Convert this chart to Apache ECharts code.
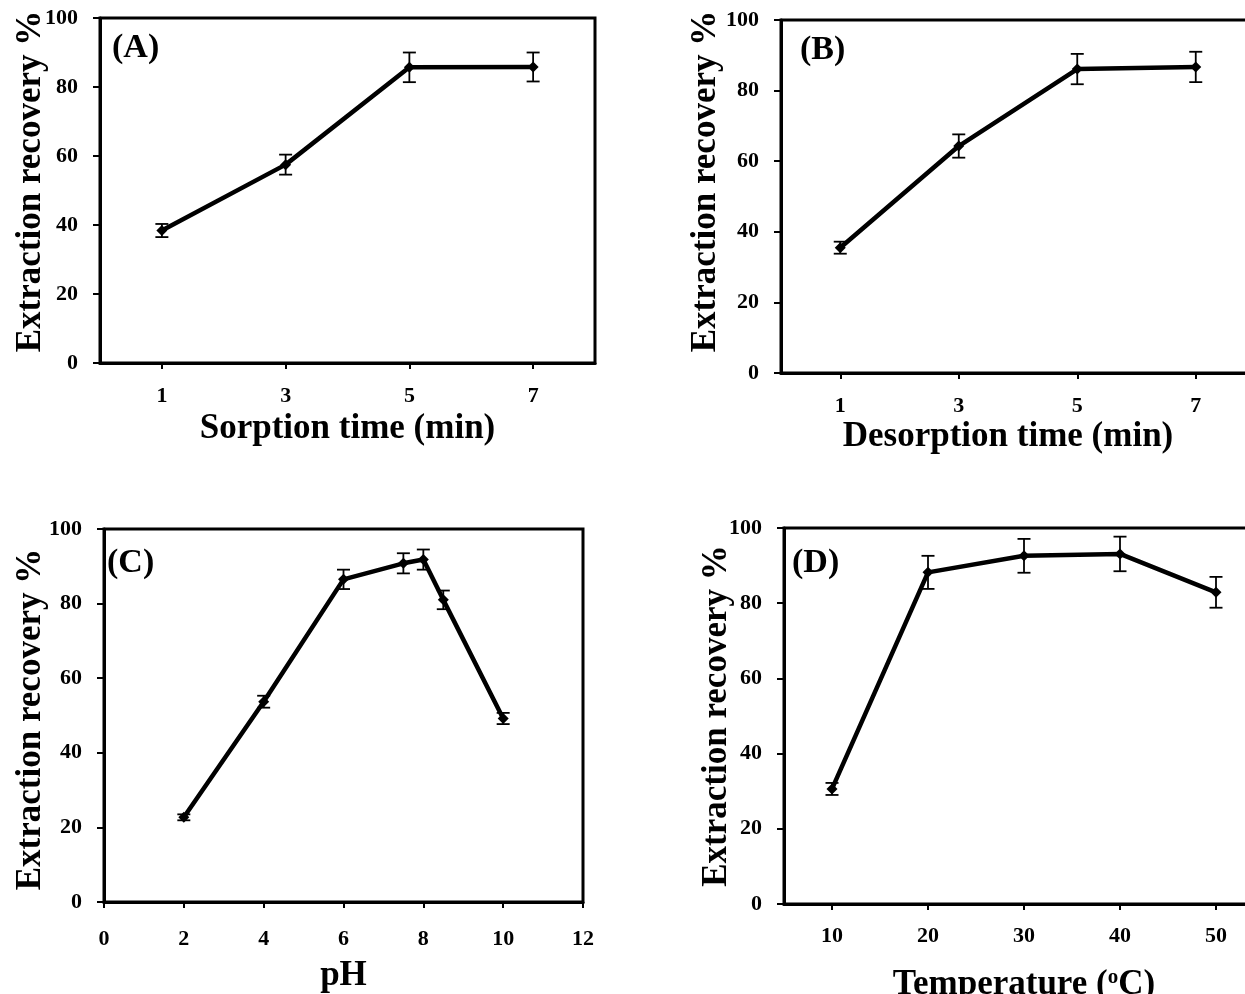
<!DOCTYPE html>
<html>
<head>
<meta charset="utf-8">
<script src="https://cdn.jsdelivr.net/npm/echarts@6/dist/echarts.min.js"></script>
<style>
html,body{margin:0;padding:0;background:#fff;overflow:hidden;width:1245px;height:994px;}
#chart{width:1275px;height:994px;}
</style>
</head>
<body>
<div id="chart"></div>
<script>
// ---- Data ----
const sorptionTime = ['1', '3', '5', '7'];
const sorptionRecovery = [38.4, 57.5, 85.7, 85.8];
const sorptionError = [1.9, 2.9, 4.3, 4.2];

const desorptionTime = ['1', '3', '5', '7'];
const desorptionRecovery = [35.5, 64.3, 86.1, 86.7];
const desorptionError = [1.7, 3.3, 4.3, 4.3];

const phValues = [2, 4, 6, 7.5, 8, 8.5, 10];
const phRecovery = [22.7, 53.7, 86.5, 90.8, 91.8, 81.0, 49.2];
const phError = [0.8, 1.6, 2.6, 2.7, 2.7, 2.5, 1.5];

const temperature = ['10', '20', '30', '40', '50'];
const tempRecovery = [30.6, 88.2, 92.6, 93.1, 82.9];
const tempError = [1.6, 4.4, 4.5, 4.6, 4.1];

const yTicks = [0, 20, 40, 60, 80, 100];
const panelLabels = ['(A)', '(B)', '(C)', '(D)'];
const xTitles = ['Sorption time (min)', 'Desorption time (min)', 'pH', 'Temperature ({sup|o}C)'];
const yTitle = 'Extraction recovery %';

// ---- Chart ----
const FONT = "'Liberation Serif', 'Times New Roman', serif";
const chart = echarts.init(document.getElementById('chart'), null, {renderer: 'canvas'});

const grids = [
  {left: 100, top: 18, width: 495, height: 345},
  {left: 781, top: 20, width: 474, height: 353},
  {left: 104, top: 529, width: 479, height: 373},
  {left: 784, top: 528, width: 480, height: 376}
];

function gridOpt(g) {
  return Object.assign({show: true, borderColor: '#000', borderWidth: 3, backgroundColor: 'transparent',
    containLabel: false, outerBoundsMode: 'none'}, g);
}

const labelStyle = {color: '#000', fontFamily: FONT, fontWeight: 'bold', fontSize: 22};
const supRich = {sup: {fontFamily: FONT, fontWeight: 'bold', fontSize: 21, color: '#000', verticalAlign: 'top', padding: [0, 0, 14, 0]}};
function nameStyle(padding) {
  return {color: '#000', fontFamily: FONT, fontWeight: 'bold', fontSize: 35, padding: padding || 0, rich: supRich};
}

function catX(i, data, nameGap, margin, pad) {
  return {
    type: 'category', gridIndex: i, data: data, boundaryGap: true,
    name: xTitles[i], nameLocation: 'middle', nameGap: nameGap, nameMoveOverlap: false, nameTextStyle: nameStyle(pad),
    axisLine: {show: true, lineStyle: {color: '#000', width: 3}},
    axisTick: {show: true, alignWithLabel: true, length: 6, lineStyle: {color: '#000', width: 2}},
    axisLabel: Object.assign({margin: margin}, labelStyle),
    splitLine: {show: false}
  };
}

function yAx(i, nameGap, pad) {
  return {
    type: 'value', gridIndex: i, min: yTicks[0], max: yTicks[yTicks.length - 1], interval: yTicks[1] - yTicks[0],
    name: yTitle, nameLocation: 'middle', nameGap: nameGap, nameRotate: 90, nameMoveOverlap: false, nameTextStyle: nameStyle(pad),
    axisLine: {show: true, lineStyle: {color: '#000', width: 3}},
    axisTick: {show: true, length: 7, lineStyle: {color: '#000', width: 2}},
    axisLabel: Object.assign({margin: 22}, labelStyle),
    splitLine: {show: false}
  };
}

const xAxes = [
  catX(0, sorptionTime, 48, 22),
  catX(1, desorptionTime, 46, 22, [0, 20, 0, 0]),
  {
    type: 'value', gridIndex: 2, min: 0, max: 12, interval: 2,
    name: xTitles[2], nameLocation: 'middle', nameGap: 56, nameMoveOverlap: false, nameTextStyle: nameStyle(),
    axisLine: {show: true, onZero: false, lineStyle: {color: '#000', width: 3}},
    axisTick: {show: true, length: 6, lineStyle: {color: '#000', width: 2}},
    axisLabel: Object.assign({margin: 26}, labelStyle),
    splitLine: {show: false}
  },
  catX(3, temperature, 63, 21)
];

const yAxes = [
  yAx(0, 52, [0, 0, 0, 18]),
  yAx(1, 58, [0, 0, 0, 30]),
  yAx(2, 56, [0, 8, 0, 0]),
  yAx(3, 50)
];

function lineSeries(i, data) {
  return {
    type: 'line', xAxisIndex: i, yAxisIndex: i, data: data,
    symbol: 'diamond', symbolSize: 11, showSymbol: true,
    lineStyle: {color: '#000', width: 4.5},
    itemStyle: {color: '#000'},
    z: 3, animation: false
  };
}

function errSeries(i, data) {
  return {
    type: 'custom', xAxisIndex: i, yAxisIndex: i, data: data, z: 4, animation: false,
    renderItem: function (params, api) {
      const x = api.value(0), y = api.value(1), e = api.value(2);
      const hi = api.coord([x, y + e]);
      const lo = api.coord([x, y - e]);
      const w = 6.5;
      const st = {stroke: '#000', lineWidth: 1.8};
      return {type: 'group', children: [
        {type: 'line', shape: {x1: hi[0], y1: hi[1], x2: lo[0], y2: lo[1]}, style: st},
        {type: 'line', shape: {x1: hi[0] - w, y1: hi[1], x2: hi[0] + w, y2: hi[1]}, style: st},
        {type: 'line', shape: {x1: lo[0] - w, y1: lo[1], x2: lo[0] + w, y2: lo[1]}, style: st}
      ]};
    }
  };
}

const series = [
  lineSeries(0, sorptionRecovery.map((v, k) => [k, v])),
  errSeries(0, sorptionRecovery.map((v, k) => [k, v, sorptionError[k]])),
  lineSeries(1, desorptionRecovery.map((v, k) => [k, v])),
  errSeries(1, desorptionRecovery.map((v, k) => [k, v, desorptionError[k]])),
  lineSeries(2, phValues.map((x, k) => [x, phRecovery[k]])),
  errSeries(2, phValues.map((x, k) => [x, phRecovery[k], phError[k]])),
  lineSeries(3, tempRecovery.map((v, k) => [k, v])),
  errSeries(3, tempRecovery.map((v, k) => [k, v, tempError[k]]))
];

const labelPos = [[112, 31], [800, 33], [107, 546], [792, 546]];
const titles = panelLabels.map((t, i) => ({
  text: t, left: labelPos[i][0], top: labelPos[i][1], padding: 0,
  textStyle: {color: '#000', fontFamily: FONT, fontWeight: 'bold', fontSize: 34}
}));

chart.setOption({
  animation: false,
  backgroundColor: '#fff',
  title: titles,
  grid: grids.map(gridOpt),
  xAxis: xAxes,
  yAxis: yAxes,
  series: series
});
</script>
</body>
</html>
